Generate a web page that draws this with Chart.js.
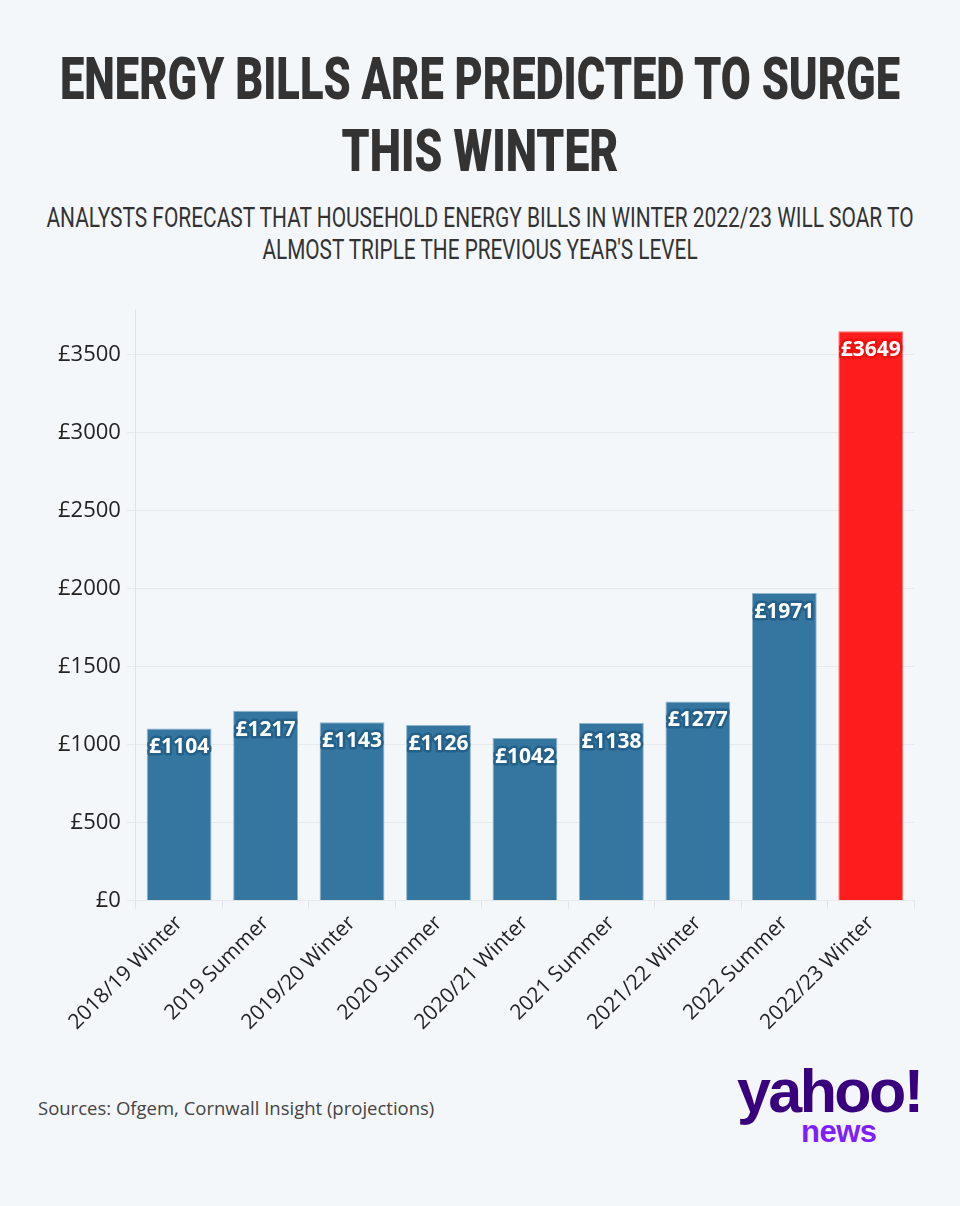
<!DOCTYPE html>
<html>
<head>
<meta charset="utf-8">
<script src="https://cdn.jsdelivr.net/npm/chart.js@4"></script>
<style>
  html, body { margin: 0; padding: 0; background: #f4f7fa; }
  body { width: 960px; height: 1206px; position: relative; overflow: hidden; font-family: 'Open Sans', sans-serif; }
  .line { position: absolute; left: 0; width: 960px; white-space: nowrap; color: #333; font-family: 'Roboto', sans-serif; }
  .line span { position: absolute; left: 480px; top: 0; display: inline-block; transform-origin: center center; }
  .t { font-size: 60px; line-height: 60px; font-weight: 900; }
  .s { font-size: 28px; line-height: 28px; font-weight: 400; }
  .chart-wrap { position: absolute; left: 0; top: 290px; width: 960px; height: 747px; }
  .source { position: absolute; left: 38px; top: 1095px; font-size: 18.5px; color: #444; }
  .logo { position: absolute; left: 737px; top: 1062px; width: 200px; }
  .logo .y { font-family: 'Liberation Sans', sans-serif; font-weight: 700; font-size: 61px; color: #39007d; line-height: 58px; letter-spacing: -2.6px; }
  .logo .n { font-family: 'Liberation Sans', sans-serif; font-weight: 700; font-size: 31px; color: #7e1fff; line-height: 24px; margin-left: 64px; letter-spacing: -0.5px; }
</style>
</head>
<body>
<div class="line t" style="top:49px"><span data-w="840">ENERGY BILLS ARE PREDICTED TO SURGE</span></div>
<div class="line t" style="top:121px"><span data-w="277">THIS WINTER</span></div>
<div class="line s" style="top:204px"><span data-w="867">ANALYSTS FORECAST THAT HOUSEHOLD ENERGY BILLS IN WINTER 2022/23 WILL SOAR TO</span></div>
<div class="line s" style="top:236px"><span data-w="435">ALMOST TRIPLE THE PREVIOUS YEAR'S LEVEL</span></div>
<div class="chart-wrap"><canvas id="billChart"></canvas></div>
<div class="source">Sources: Ofgem, Cornwall Insight (projections)</div>
<div class="logo"><div class="y">yahoo!</div><div class="n">news</div></div>
<script>
const periods = ['2018/19 Winter', '2019 Summer', '2019/20 Winter', '2020 Summer', '2020/21 Winter',
                 '2021 Summer', '2021/22 Winter', '2022 Summer', '2022/23 Winter'];
const bills = [1104, 1217, 1143, 1126, 1042, 1138, 1277, 1971, 3649];
const yTicks = [0, 500, 1000, 1500, 2000, 2500, 3000, 3500];

const BLUE = '#3576a0';
const RED = '#ff1c1c';
const lastIdx = bills.length - 1;

// squeeze the headline lines to the condensed width of the original
document.querySelectorAll('.line span').forEach(s => {
  const w = s.offsetWidth;
  s.style.transform = 'translateX(-50%) scaleX(' + (parseFloat(s.dataset.w) / w) + ')';
});

// value labels drawn inside the top of each bar
const valueLabels = {
  id: 'valueLabels',
  afterDatasetsDraw(chart) {
    const ctx = chart.ctx;
    const meta = chart.getDatasetMeta(0);
    ctx.save();
    ctx.font = "700 21px 'Open Sans', sans-serif";
    ctx.textAlign = 'center';
    ctx.textBaseline = 'middle';
    ctx.lineJoin = 'round';
    meta.data.forEach((bar, i) => {
      const txt = '£' + bills[i];
      const y = bar.y + 19;
      ctx.lineWidth = 5;
      ctx.strokeStyle = i === lastIdx ? '#f01010' : '#23608a';
      ctx.strokeText(txt, bar.x, y);
      ctx.fillStyle = '#fff';
      ctx.fillText(txt, bar.x, y);
    });
    ctx.restore();
  }
};

new Chart(document.getElementById('billChart'), {
  type: 'bar',
  data: {
    labels: periods,
    datasets: [{
      data: bills,
      backgroundColor: bills.map((_, i) => i === lastIdx ? RED : BLUE),
      borderColor: bills.map((_, i) => i === lastIdx ? '#ff7070' : '#8fb4cc'),
      borderWidth: 1,
      categoryPercentage: 1,
      barPercentage: 0.75,
    }],
  },
  options: {
    responsive: true,
    maintainAspectRatio: false,
    animation: false,
    plugins: { legend: { display: false }, tooltip: { enabled: false } },
    layout: { padding: { left: 52, right: 46, top: 18, bottom: 0 } },
    scales: {
      y: {
        min: 0, max: 3790,
        afterBuildTicks: axis => { axis.ticks = yTicks.map(v => ({ value: v })); },
        grid: { color: '#e6eaee', tickLength: 9 },
        border: { color: '#e0e4e8' },
        ticks: {
          padding: 6,
          color: '#222',
          font: { family: "'Open Sans', sans-serif", size: 22 },
          callback: v => '£' + v,
        },
      },
      x: {
        grid: { drawOnChartArea: false, color: '#e0e4e8', tickLength: 8 },
        border: { color: '#e6eaee' },
        ticks: {
          minRotation: 45, maxRotation: 45,
          color: '#222',
          padding: 2,
          font: { family: "'Open Sans', sans-serif", size: 21 },
        },
      },
    },
  },
  plugins: [valueLabels],
});
</script>
</body>
</html>
